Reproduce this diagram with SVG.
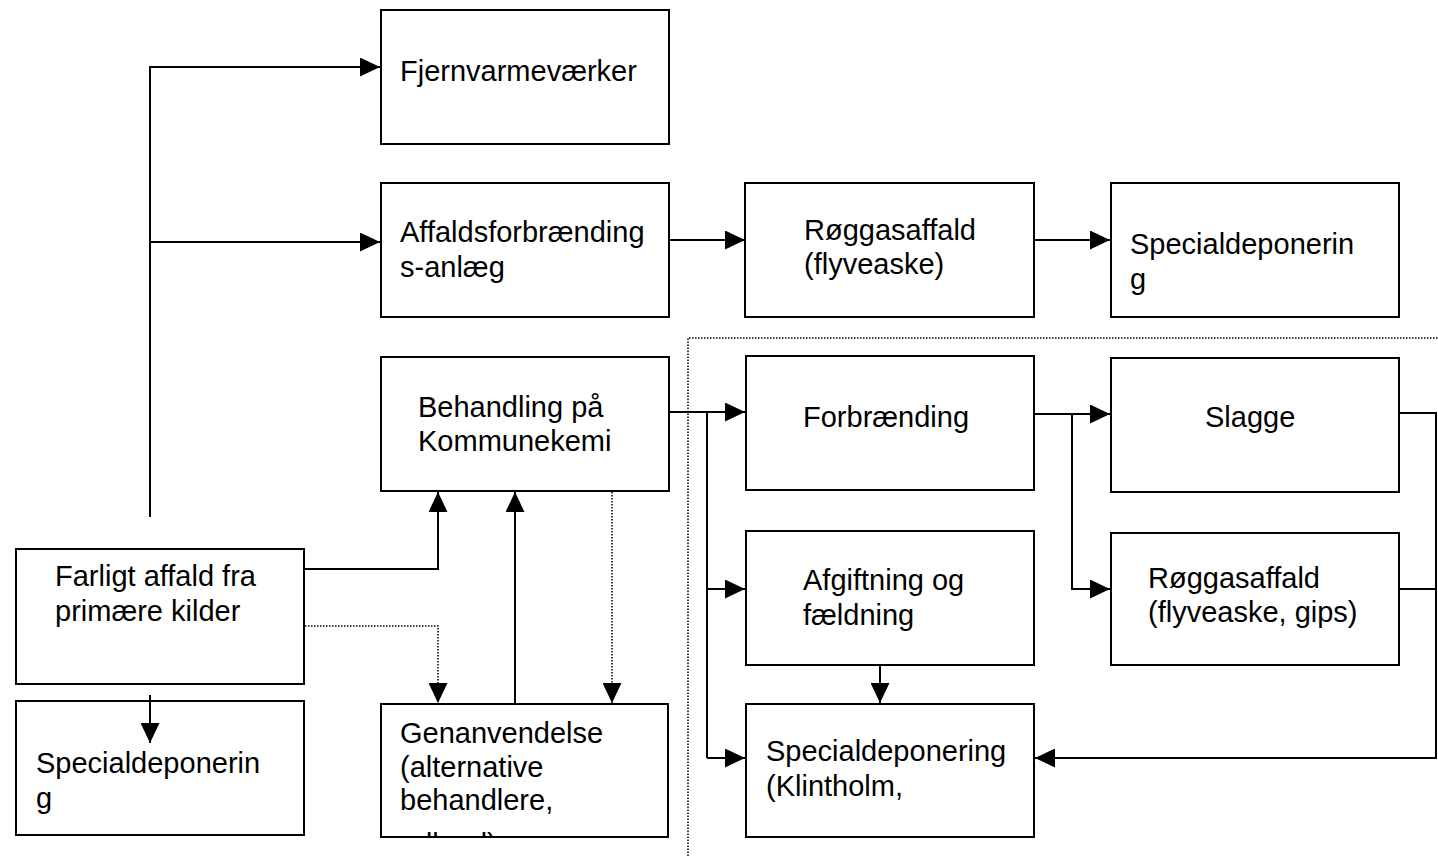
<svg xmlns="http://www.w3.org/2000/svg" width="1438" height="856" viewBox="0 0 1438 856">
<style>
.box{fill:#fff;stroke:#000;stroke-width:2}
.t{font-family:"Liberation Sans",Arial,sans-serif;font-size:29px;fill:#000}
.c{fill:none;stroke:#000;stroke-width:2}
.d{fill:none;stroke:#000;stroke-width:1.5;stroke-dasharray:1.5 1.5}
</style>
<defs>
<marker id="ah" markerUnits="userSpaceOnUse" markerWidth="20" markerHeight="19" refX="20" refY="9.5" orient="auto" viewBox="0 0 20 19">
<path d="M0,0 L20,9.5 L0,19 z" fill="#000"/>
</marker>
<clipPath id="gclip"><rect x="381" y="704" width="286" height="133"/></clipPath>
</defs>
<rect width="1438" height="856" fill="#fff"/>
<g id="fjernvarme">
<rect class="box" x="381" y="10" width="288" height="134"/>
<text class="t" x="400" y="81">Fjernvarmeværker</text>
</g>
<g id="affaldsforbraending">
<rect class="box" x="381" y="183" width="288" height="134"/>
<text class="t" x="400" y="242">Affaldsforbrænding</text>
<text class="t" x="400" y="277">s-anlæg</text>
</g>
<g id="roeggas1">
<rect class="box" x="745" y="183" width="289" height="134"/>
<text class="t" x="804" y="240">Røggasaffald</text>
<text class="t" x="804" y="274">(flyveaske)</text>
</g>
<g id="specialdep1">
<rect class="box" x="1111" y="183" width="288" height="134"/>
<text class="t" x="1130" y="254">Specialdeponerin</text>
<text class="t" x="1130" y="289">g</text>
</g>
<g id="behandling">
<rect class="box" x="381" y="357" width="288" height="134"/>
<text class="t" x="418" y="417">Behandling på</text>
<text class="t" x="418" y="451">Kommunekemi</text>
</g>
<g id="forbraending">
<rect class="box" x="746" y="356" width="288" height="134"/>
<text class="t" x="803" y="427">Forbrænding</text>
</g>
<g id="slagge">
<rect class="box" x="1111" y="358" width="288" height="134"/>
<text class="t" x="1205" y="427">Slagge</text>
</g>
<g id="afgiftning">
<rect class="box" x="746" y="531" width="288" height="134"/>
<text class="t" x="803" y="590">Afgiftning og</text>
<text class="t" x="803" y="625">fældning</text>
</g>
<g id="roeggas2">
<rect class="box" x="1111" y="533" width="288" height="132"/>
<text class="t" x="1148" y="588">Røggasaffald</text>
<text class="t" x="1148" y="622">(flyveaske, gips)</text>
</g>
<g id="specialdep-klintholm">
<rect class="box" x="746" y="704" width="288" height="133"/>
<text class="t" x="766" y="761">Specialdeponering</text>
<text class="t" x="766" y="796">(Klintholm,</text>
</g>
<g id="farligt">
<rect class="box" x="16" y="549" width="288" height="135"/>
<text class="t" x="55" y="586">Farligt affald fra</text>
<text class="t" x="55" y="621">primære kilder</text>
</g>
<g id="specialdep2">
<rect class="box" x="16" y="701" width="288" height="134"/>
<text class="t" x="36" y="773">Specialdeponerin</text>
<text class="t" x="36" y="808">g</text>
</g>
<g id="genanvendelse">
<rect class="box" x="381" y="704" width="287" height="133"/>
<g clip-path="url(#gclip)">
<text class="t" x="400" y="743">Genanvendelse</text>
<text class="t" x="400" y="777">(alternative</text>
<text class="t" x="400" y="810">behandlere,</text>
<text class="t" x="400" y="854">udland)</text>
</g>
</g>
<g id="connectors">
<path class="d" d="M688,856 V338 H1438"/>
<path class="c" d="M150,517 V67 H380" marker-end="url(#ah)"/>
<path class="c" d="M150,242 H380" marker-end="url(#ah)"/>
<path class="c" d="M669,240 H745" marker-end="url(#ah)"/>
<path class="c" d="M1034,240 H1110" marker-end="url(#ah)"/>
<path class="c" d="M669,412 H745" marker-end="url(#ah)"/>
<path class="c" d="M707,412 V758"/>
<path class="c" d="M707,589 H745" marker-end="url(#ah)"/>
<path class="c" d="M707,758 H745" marker-end="url(#ah)"/>
<path class="c" d="M1034,414 H1110" marker-end="url(#ah)"/>
<path class="c" d="M1072,414 V589 H1110" marker-end="url(#ah)"/>
<path class="c" d="M1399,413 H1436 V758 H1035" marker-end="url(#ah)"/>
<path class="c" d="M1399,589 H1436"/>
<path class="c" d="M880,666 V703" marker-end="url(#ah)"/>
<path class="c" d="M305,569 H438 V492" marker-end="url(#ah)"/>
<path class="d" d="M305,626 H438 V703" marker-end="url(#ah)"/>
<path class="c" d="M515,703 V492" marker-end="url(#ah)"/>
<path class="d" d="M612,492 V703" marker-end="url(#ah)"/>
<path class="c" d="M150,695 V743" marker-end="url(#ah)"/>
</g>
</svg>
